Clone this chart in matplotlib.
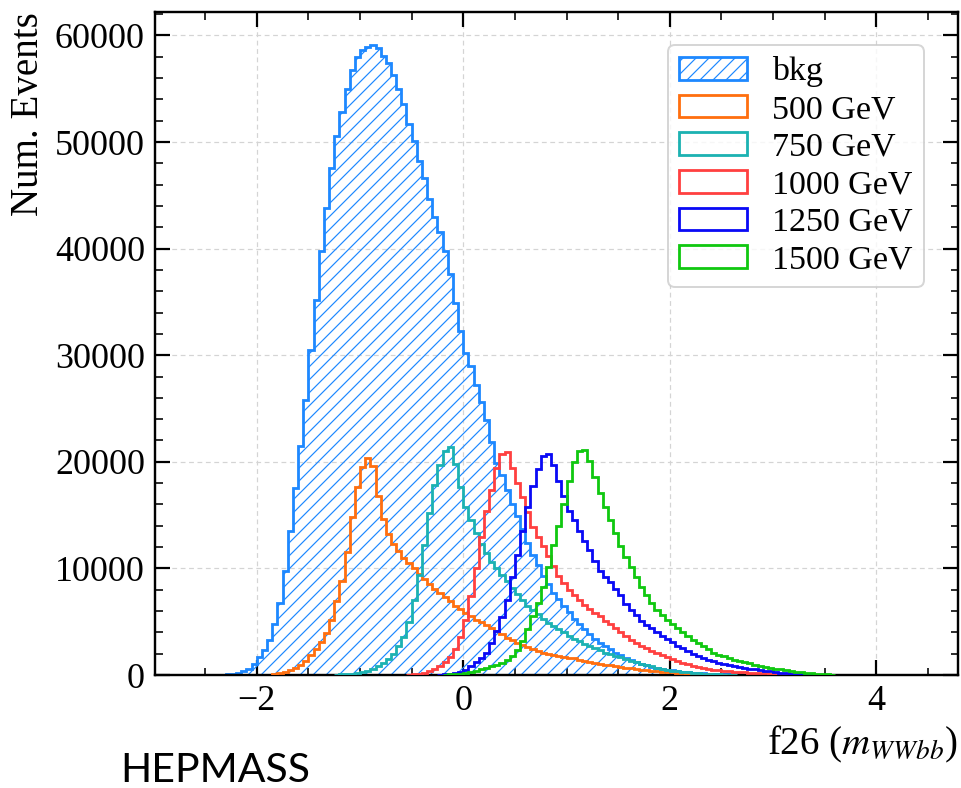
import numpy as np
import matplotlib
matplotlib.use("Agg")
import matplotlib.pyplot as plt
from matplotlib.ticker import MultipleLocator

DPI = 156
def px(v):
    return v * 72.0 / DPI

# ---------------- data (thousands of events per bin) ----------------
bin_width = 0.05

bkg_start = -2.5
bkg_k = [0, 0, 0.02, 0.04, 0.06, 0.12, 0.22, 0.35, 0.55, 1.0,
         1.7, 2.3, 3.3, 4.8, 6.8, 9.8, 13.5, 17.5, 21.5, 25.8,
         30.5, 35.2, 39.8, 43.8, 47.6, 50.6, 52.8, 55.0, 56.8, 58.0,
         58.6, 58.9, 59.1, 58.8, 58.1, 57.4, 56.3, 55.0, 53.6, 51.7,
         50.1, 48.2, 46.6, 44.7, 43.0, 41.6, 39.8, 37.6, 34.9, 32.3,
         30.2, 29.0, 27.2, 25.6, 23.9, 21.9, 19.9, 18.8, 17.4, 16.0,
         14.9, 13.7, 12.4, 11.3, 10.3, 9.3, 8.5, 7.7, 7.1, 6.5,
         5.9, 5.3, 4.8, 4.3, 3.8, 3.4, 3.0, 2.7, 2.4, 2.1,
         1.85, 1.6, 1.4, 1.2, 1.05, 0.9, 0.78, 0.67, 0.58, 0.5,
         0.43, 0.37, 0.32, 0.27, 0.23, 0.2, 0.17, 0.14, 0.12, 0.1,
         0.08, 0.07, 0.06, 0.05, 0.04, 0.03, 0.03, 0.02, 0.02, 0.02]

m500_start = -1.85
m500_k = [0.1, 0.2, 0.3, 0.45, 0.65, 0.95, 1.35, 1.85, 2.4, 3.1,
          3.9, 5.2, 6.9, 8.8, 11.5, 14.8, 17.6, 19.5, 20.4, 19.6,
          16.8, 14.6, 13.2, 12.3, 11.6, 11.0, 10.5, 10.0, 9.5, 9.0,
          8.5, 8.1, 7.7, 7.3, 6.9, 6.5, 6.2, 5.8, 5.5, 5.2,
          4.95, 4.7, 4.4, 4.1, 3.8, 3.5, 3.25, 3.0, 2.8, 2.6,
          2.4, 2.25, 2.1, 2.0, 1.9, 1.8, 1.7, 1.6, 1.55, 1.45,
          1.3, 1.2, 1.1, 1.0, 0.95, 0.9, 0.8, 0.75, 0.7, 0.62,
          0.56, 0.5, 0.45, 0.4, 0.36, 0.32, 0.28, 0.24, 0.2, 0.17,
          0.14, 0.11, 0.09, 0.07, 0.05, 0.04, 0.03, 0.02]

m750_start = -1.25
m750_k = [0.03, 0.05, 0.08, 0.12, 0.2, 0.28, 0.4, 0.55, 0.8, 1.1,
          1.5, 2.0, 2.7, 3.6, 5.0, 7.0, 9.4, 12.2, 15.2, 17.8,
          19.7, 21.0, 21.4, 19.8, 17.6, 15.8, 14.5, 13.3, 12.3, 11.4,
          10.6, 10.0, 9.4, 8.8, 8.2, 7.6, 7.0, 6.5, 6.1, 5.7,
          5.3, 4.9, 4.6, 4.3, 4.0, 3.7, 3.4, 3.2, 2.9, 2.7,
          2.5, 2.3, 2.1, 1.95, 1.8, 1.65, 1.5, 1.35, 1.2, 1.05,
          0.92, 0.8, 0.7, 0.6, 0.5, 0.42, 0.35, 0.29, 0.24, 0.19,
          0.15, 0.12, 0.09, 0.07, 0.05, 0.04, 0.03, 0.02]

m1000_start = -0.55
m1000_k = [0.02, 0.05, 0.1, 0.2, 0.35, 0.55, 0.85, 1.2, 1.7, 2.4,
           3.6, 5.2, 7.4, 10.0, 12.9, 15.4, 17.4, 19.4, 20.7, 20.9,
           19.4, 18.0, 16.7, 15.3, 13.9, 12.9, 12.1, 11.2, 10.2, 9.3,
           8.6, 8.0, 7.5, 7.0, 6.6, 6.2, 5.85, 5.5, 5.1, 4.8,
           4.4, 4.0, 3.65, 3.3, 3.0, 2.75, 2.5, 2.25, 2.05, 1.85,
           1.65, 1.5, 1.3, 1.15, 1.0, 0.88, 0.75, 0.65, 0.57, 0.5,
           0.44, 0.39, 0.35, 0.31, 0.28, 0.25, 0.22, 0.2, 0.17, 0.15,
           0.13, 0.11, 0.09, 0.07, 0.05, 0.04, 0.03]

m1250_start = -0.25
m1250_k = [0.02, 0.05, 0.1, 0.2, 0.3, 0.5, 0.8, 1.2, 1.6, 2.1,
           3.0, 4.1, 5.4, 7.0, 9.2, 11.3, 13.5, 15.8, 17.7, 19.3,
           20.5, 20.7, 19.7, 18.2, 16.8, 15.4, 14.5, 13.5, 12.6, 11.7,
           10.7, 9.8, 9.2, 8.7, 8.1, 7.5, 6.7, 6.1, 5.6, 5.1,
           4.7, 4.4, 4.0, 3.7, 3.4, 3.1, 2.75, 2.5, 2.25, 2.0,
           1.8, 1.6, 1.45, 1.3, 1.15, 1.05, 0.95, 0.85, 0.75, 0.67,
           0.6, 0.52, 0.45, 0.4, 0.34, 0.28, 0.23, 0.18, 0.14, 0.1,
           0.07, 0.05, 0.03, 0.02]

m1500_start = -0.2
m1500_k = [0.02, 0.05, 0.08, 0.12, 0.2, 0.3, 0.4, 0.55, 0.65, 0.8,
           0.95, 1.15, 1.45, 1.8, 2.3, 3.2, 4.3, 5.5, 6.8, 8.3,
           10.1, 12.2, 14.0, 16.0, 18.2, 20.0, 21.0, 21.1, 20.1, 18.6,
           17.1, 15.8, 14.5, 13.3, 12.1, 11.1, 10.1, 9.2, 8.3, 7.5,
           6.8, 6.1, 5.6, 5.2, 4.8, 4.4, 4.0, 3.65, 3.3, 3.0,
           2.7, 2.4, 2.1, 1.9, 1.75, 1.6, 1.45, 1.3, 1.2, 1.08,
           0.95, 0.85, 0.77, 0.7, 0.6, 0.52, 0.45, 0.38, 0.32, 0.26,
           0.2, 0.15, 0.11, 0.08, 0.05, 0.03]

labels = ["bkg", "500 GeV", "750 GeV", "1000 GeV", "1250 GeV", "1500 GeV"]
colors = ["#1E88FF", "#FF6F0F", "#1CB2B2", "#FF4040", "#0A0AF5", "#10C810"]
starts = [bkg_start, m500_start, m750_start, m1000_start, m1250_start, m1500_start]
series = [bkg_k, m500_k, m750_k, m1000_k, m1250_k, m1500_k]

x_label = r"f26 ($m_{WWbb}$)"
y_label = "Num. Events"
title_text = "HEPMASS"

# ---------------- style ----------------
FS_TICK = px(36)
FS_LAB = px(39)
FS_LEG = px(34)
plt.rcParams.update({
    "font.family": ["Liberation Serif", "DejaVu Serif"],
    "mathtext.fontset": "stix",
    "font.size": FS_TICK,
    "hatch.linewidth": px(1.2),
    "axes.linewidth": px(2.4),
})

fig = plt.figure(figsize=(961 / DPI, 788 / DPI), dpi=DPI)
ax = fig.add_axes([155 / 961, 1 - 675 / 788, (958 - 155) / 961, (675 - 12) / 788])

LW = px(2.8)
for i, (lab, col, st, vals) in enumerate(zip(labels, colors, starts, series)):
    v = np.array(vals) * 1000.0
    edges = st + bin_width * np.arange(len(v) + 1)
    centers = 0.5 * (edges[:-1] + edges[1:])
    if i == 0:
        ax.hist(centers, bins=edges, weights=v, histtype="stepfilled",
                facecolor="none", edgecolor=col, hatch="////",
                linewidth=LW, label=lab, zorder=2)
    else:
        ax.hist(centers, bins=edges, weights=v, histtype="step",
                color=col, linewidth=LW, label=lab, zorder=3)

ax.set_xlim(-2.985, 4.79)
ax.set_ylim(0, 62200)
ax.xaxis.set_major_locator(MultipleLocator(2))
ax.xaxis.set_minor_locator(MultipleLocator(0.5))
ax.yaxis.set_major_locator(MultipleLocator(10000))
ax.yaxis.set_minor_locator(MultipleLocator(2000))
ax.tick_params(which="both", direction="in", top=True, right=True)
ax.tick_params(which="major", length=px(15), width=px(2.2), pad=px(10), labelsize=FS_TICK)
ax.tick_params(which="minor", length=px(7.5), width=px(1.6))
ax.grid(True, which="major", color="#d4d4d4", linestyle=(0, (4, 3)), linewidth=px(1.2), zorder=0)
ax.set_axisbelow(True)

ax.set_xlabel(x_label, loc="right", fontsize=FS_LAB, labelpad=px(6))
ax.set_ylabel(y_label, loc="top", fontsize=FS_LAB, labelpad=px(8))

leg = ax.legend(loc="upper right", bbox_to_anchor=(0.958, 0.950), borderaxespad=0,
                fontsize=FS_LEG, handlelength=2.0, handleheight=0.65,
                handletextpad=0.75, labelspacing=0.21, borderpad=0.33,
                fancybox=True, framealpha=0.8, edgecolor="#cccccc")
leg.get_frame().set_linewidth(px(2))

fig.text(120 / 961, 1 - 782 / 788, title_text, fontsize=px(41),
         family=["Lato", "DejaVu Sans"], va="baseline", ha="left")

fig.savefig("out.png", dpi=DPI)
